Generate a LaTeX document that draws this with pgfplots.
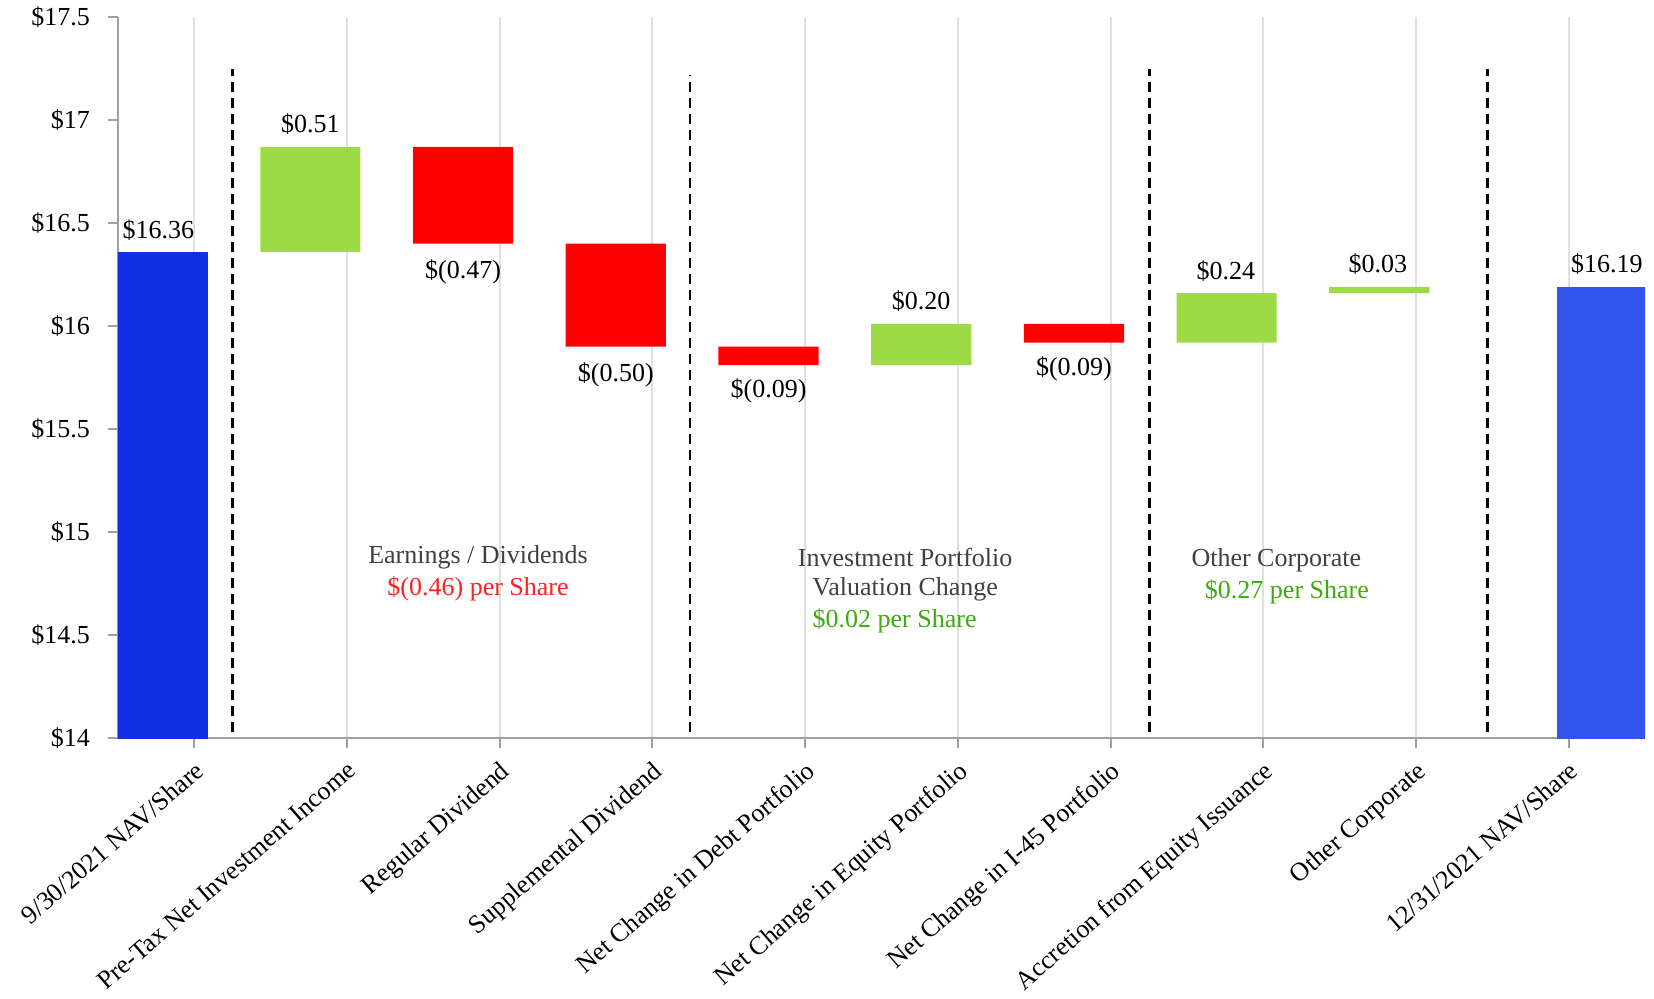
\documentclass[border=0pt]{standalone}
\usepackage{pgfplots}
\pgfplotsset{compat=1.18}
\usepackage{fontspec}
\setmainfont{Liberation Serif}
\definecolor{blueA}{HTML}{112EE0}
\definecolor{blueB}{HTML}{3355EE}
\definecolor{grn}{HTML}{9CDB45}
\definecolor{rd}{HTML}{FF0000}
\definecolor{gridgray}{HTML}{E0E0E0}
\definecolor{axisgray}{HTML}{A0A0A0}
\definecolor{txtgray}{HTML}{404040}
\definecolor{txtgreen}{HTML}{3DAA0F}
\definecolor{txtred}{HTML}{FF2020}
\begin{document}
\begin{tikzpicture}
\pgfplotsset{
  common/.style={
    scale only axis, width=763.5pt, height=360.5pt,
    xmin=-0.5, xmax=9.5, ymin=14, ymax=17.5,
  }
}
\begin{axis}[
  name=main,
  common,
  font=\fontsize{13}{15}\selectfont,
  ybar stacked, bar width=0.656,
  axis lines*=left,
  axis line style={draw=axisgray, line width=1pt},
  tick style={draw=axisgray, line width=1pt},
  tick align=outside, major tick length=5pt,
  xtick={0,1,2,3,4,5,6,7,8,9},
  xticklabels={9/30/2021 NAV/Share, Pre-Tax Net Investment Income, Regular Dividend, Supplemental Dividend, Net Change in Debt Portfolio, Net Change in Equity Portfolio, Net Change in I-45 Portfolio, Accretion from Equity Issuance, Other Corporate, 12/31/2021 NAV/Share},
  xticklabel style={rotate=41, anchor=north east, inner sep=1pt, yshift=-3pt, xshift=-3pt},
  ytick={14,14.5,15,15.5,16,16.5,17,17.5},
  yticklabels={\$14,\$14.5,\$15,\$15.5,\$16,\$16.5,\$17,\$17.5},
  yticklabel style={xshift=-5.5pt},
  xmajorgrids, grid style={draw=gridgray, line width=1pt},
]
% invisible base
\addplot[fill=none, draw=none] coordinates {(-0.24,0) (0.76,16.36) (1.76,16.40) (2.76,15.90) (3.76,15.81) (4.76,15.81) (5.76,15.92) (6.76,15.92) (7.76,16.16) (9.25,0)};
% opening NAV
\addplot[fill=blueA, draw=none] coordinates {(-0.24,16.36) (0.76,0) (1.76,0) (2.76,0) (3.76,0) (4.76,0) (5.76,0) (6.76,0) (7.76,0) (9.25,0)};
% closing NAV
\addplot[fill=blueB, draw=none] coordinates {(-0.24,0) (0.76,0) (1.76,0) (2.76,0) (3.76,0) (4.76,0) (5.76,0) (6.76,0) (7.76,0) (9.25,16.19)};
% increases
\addplot[fill=grn, draw=none] coordinates {(-0.24,0) (0.76,0.51) (1.76,0) (2.76,0) (3.76,0) (4.76,0.20) (5.76,0) (6.76,0.24) (7.76,0.03) (9.25,0)};
% decreases
\addplot[fill=rd, draw=none] coordinates {(-0.24,0) (0.76,0) (1.76,0.47) (2.76,0.50) (3.76,0.09) (4.76,0) (5.76,0.09) (6.76,0) (7.76,0) (9.25,0)};

\node at (axis cs:-0.235,16.465) {\$16.36};
\node at (axis cs:0.76,16.98) {\$0.51};
\node at (axis cs:1.76,16.263) {\$(0.47)};
\node at (axis cs:2.76,15.765) {\$(0.50)};
\node at (axis cs:3.76,15.684) {\$(0.09)};
\node at (axis cs:4.76,16.12) {\$0.20};
\node at (axis cs:5.76,15.79) {\$(0.09)};
\node at (axis cs:6.755,16.267) {\$0.24};
\node at (axis cs:7.75,16.30) {\$0.03};
\node at (axis cs:9.25,16.30) {\$16.19};

\node[text=txtgray] at (axis cs:1.858,14.876) {Earnings / Dividends};
\node[text=txtred] at (axis cs:1.858,14.724) {\$(0.46) per Share};
\node[text=txtgray] at (axis cs:4.655,14.876) {Investment Portfolio};
\node[text=txtgray] at (axis cs:4.655,14.724) {Valuation Change};
\node[text=txtgreen] at (axis cs:4.586,14.571) {\$0.02 per Share};
\node[text=txtgray] at (axis cs:7.086,14.861) {Other Corporate};
\node[text=txtgreen] at (axis cs:7.155,14.709) {\$0.27 per Share};
\end{axis}
\begin{axis}[common, hide axis]
\addplot[black, line width=1.4pt, dash pattern=on 5pt off 3pt] coordinates {(0.25,14.03) (0.25,17.25)};
\addplot[black, line width=1.4pt, dash pattern=on 5pt off 3pt] coordinates {(3.246,14.03) (3.246,17.22)};
\addplot[black, line width=1.4pt, dash pattern=on 5pt off 3pt] coordinates {(6.257,14.03) (6.257,17.25)};
\addplot[black, line width=1.4pt, dash pattern=on 5pt off 3pt] coordinates {(8.467,14.03) (8.467,17.25)};
\end{axis}
\path ([xshift=-59pt]main.south west) -- ([xshift=4.5pt]main.north east);
\end{tikzpicture}
\end{document}
